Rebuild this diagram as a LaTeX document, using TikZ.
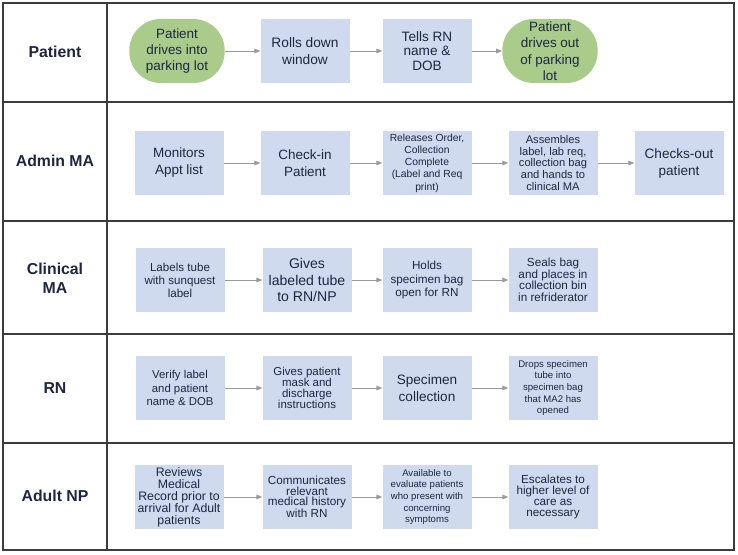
\documentclass[tikz,border=0pt]{standalone}
\usepackage{fontspec}
\setmainfont{Liberation Sans}
\usetikzlibrary{arrows.meta}
\definecolor{cajaazul}{RGB}{207,218,239}
\definecolor{verde}{RGB}{169,204,139}
\definecolor{texto}{RGB}{30,38,64}
\definecolor{flecha}{RGB}{155,155,155}
\definecolor{borde}{RGB}{60,60,60}
\begin{document}
\begin{tikzpicture}[x=0.03cm,y=-0.03cm, %Flujo de la toma de muestra
    paso/.style={fill=cajaazul, text=texto, align=center, minimum width=2.67cm, minimum height=1.92cm, inner sep=1pt},
    ovalo/.style={fill=verde, text=texto, align=center, rounded corners=0.94cm, minimum width=2.86cm, minimum height=1.92cm, inner sep=1pt},
    tam/.style 2 args={font=\fontsize{#1}{#2}\selectfont},
    flujo/.style={draw=flecha, line width=0.8pt, -{Triangle[length=5pt,width=4pt]}},
    carril/.style={text=texto, align=center, font=\fontsize{13.5}{16.5}\selectfont\bfseries}]
    \useasboundingbox (0,0) rectangle (738,554);

    % carriles
    \draw[borde, line width=1.3pt] (3,3) rectangle (734,550);
    \draw[borde, line width=1.3pt] (107,3) -- (107,550);
    \draw[borde, line width=1.3pt] (3,102) -- (734,102);
    \draw[borde, line width=1.3pt] (3,221) -- (734,221);
    \draw[borde, line width=1.3pt] (3,334) -- (734,334);
    \draw[borde, line width=1.3pt] (3,443) -- (734,443);

    \node[carril] (L1) at (55,52) {Patient};
    \node[carril] (L2) at (55,161) {Admin MA};
    \node[carril] (L3) at (55,278) {Clinical\\MA};
    \node[carril] (L4) at (55,388) {RN};
    \node[carril] (L5) at (55,496) {Adult NP};

    % Patient
    \node[ovalo, tam={11.5}{14}] (p1) at (177,51) {Patient\\drives into\\parking lot};
    \node[paso, tam={11.7}{14.2}] (p2) at (305,51) {Rolls down\\window};
    \node[paso, tam={11.6}{12.6}] (p3) at (427,51) {Tells RN\\name \&\\DOB};
    \node[ovalo, tam={11.5}{14}] (p4) at (550,51) {Patient\\drives out\\of parking\\lot};

    \draw[flujo] (p1) -- (p2);
    \draw[flujo] (p2) -- (p3);
    \draw[flujo] (p3) -- (p4);

    % Admin MA
    \node[paso, tam={11.5}{14.5}] (a1) at (179,163) {Monitors\\Appt list};
    \node[paso, tam={11.5}{14.5}] (a2) at (305,163) {Check-in\\Patient};
    \node[paso, tam={8.8}{10.4}] (a3) at (427,163) {Releases Order,\\Collection\\Complete\\(Label and Req\\print)};
    \node[paso, tam={9.5}{10}] (a4) at (553,163) {Assembles\\label, lab req,\\collection bag\\and hands to\\clinical MA};
    \node[paso, tam={11.6}{14.5}] (a5) at (679,163) {Checks-out\\patient};

    \draw[flujo] (a1) -- (a2);
    \draw[flujo] (a2) -- (a3);
    \draw[flujo] (a3) -- (a4);
    \draw[flujo] (a4) -- (a5);

    % Clinical MA
    \node[paso, tam={9.9}{11}] (c1) at (180,280) {Labels tube\\with sunquest\\label};
    \node[paso, tam={12}{13.7}] (c2) at (307,280) {Gives\\labeled tube\\to RN/NP};
    \node[paso, tam={10}{11.5}] (c3) at (427,280) {Holds\\specimen bag\\open for RN};
    \node[paso, tam={10}{9.8}] (c4) at (553,280) {Seals bag\\and places in\\collection bin\\in refriderator};

    \draw[flujo] (c1) -- (c2);
    \draw[flujo] (c2) -- (c3);
    \draw[flujo] (c3) -- (c4);

    % RN
    \node[paso, tam={9.7}{11.4}] (r1) at (180,388) {Verify label\\and patient\\name \& DOB};
    \node[paso, tam={9.8}{9.5}] (r2) at (307,388) {Gives patient\\mask and\\discharge\\instructions};
    \node[paso, tam={11.6}{14.2}] (r3) at (427,388) {Specimen\\collection};
    \node[paso, tam={8.2}{10}] (r4) at (553,388) {Drops specimen\\tube into\\specimen bag\\that MA2 has\\opened};

    \draw[flujo] (r1) -- (r2);
    \draw[flujo] (r2) -- (r3);
    \draw[flujo] (r3) -- (r4);

    % Adult NP
    \node[paso, tam={10.5}{10.3}] (n1) at (179,497) {Reviews\\Medical\\Record prior to\\arrival for Adult\\patients};
    \node[paso, tam={10}{9}] (n2) at (307,497) {Communicates\\relevant\\medical history\\with RN};
    \node[paso, tam={8.2}{10}] (n3) at (427,497) {Available to\\evaluate patients\\who present with\\concerning\\symptoms};
    \node[paso, tam={10}{9.5}] (n4) at (553,497) {Escalates to\\higher level of\\care as\\necessary};

    \draw[flujo] (n1) -- (n2);
    \draw[flujo] (n2) -- (n3);
    \draw[flujo] (n3) -- (n4);
\end{tikzpicture}
\end{document}
